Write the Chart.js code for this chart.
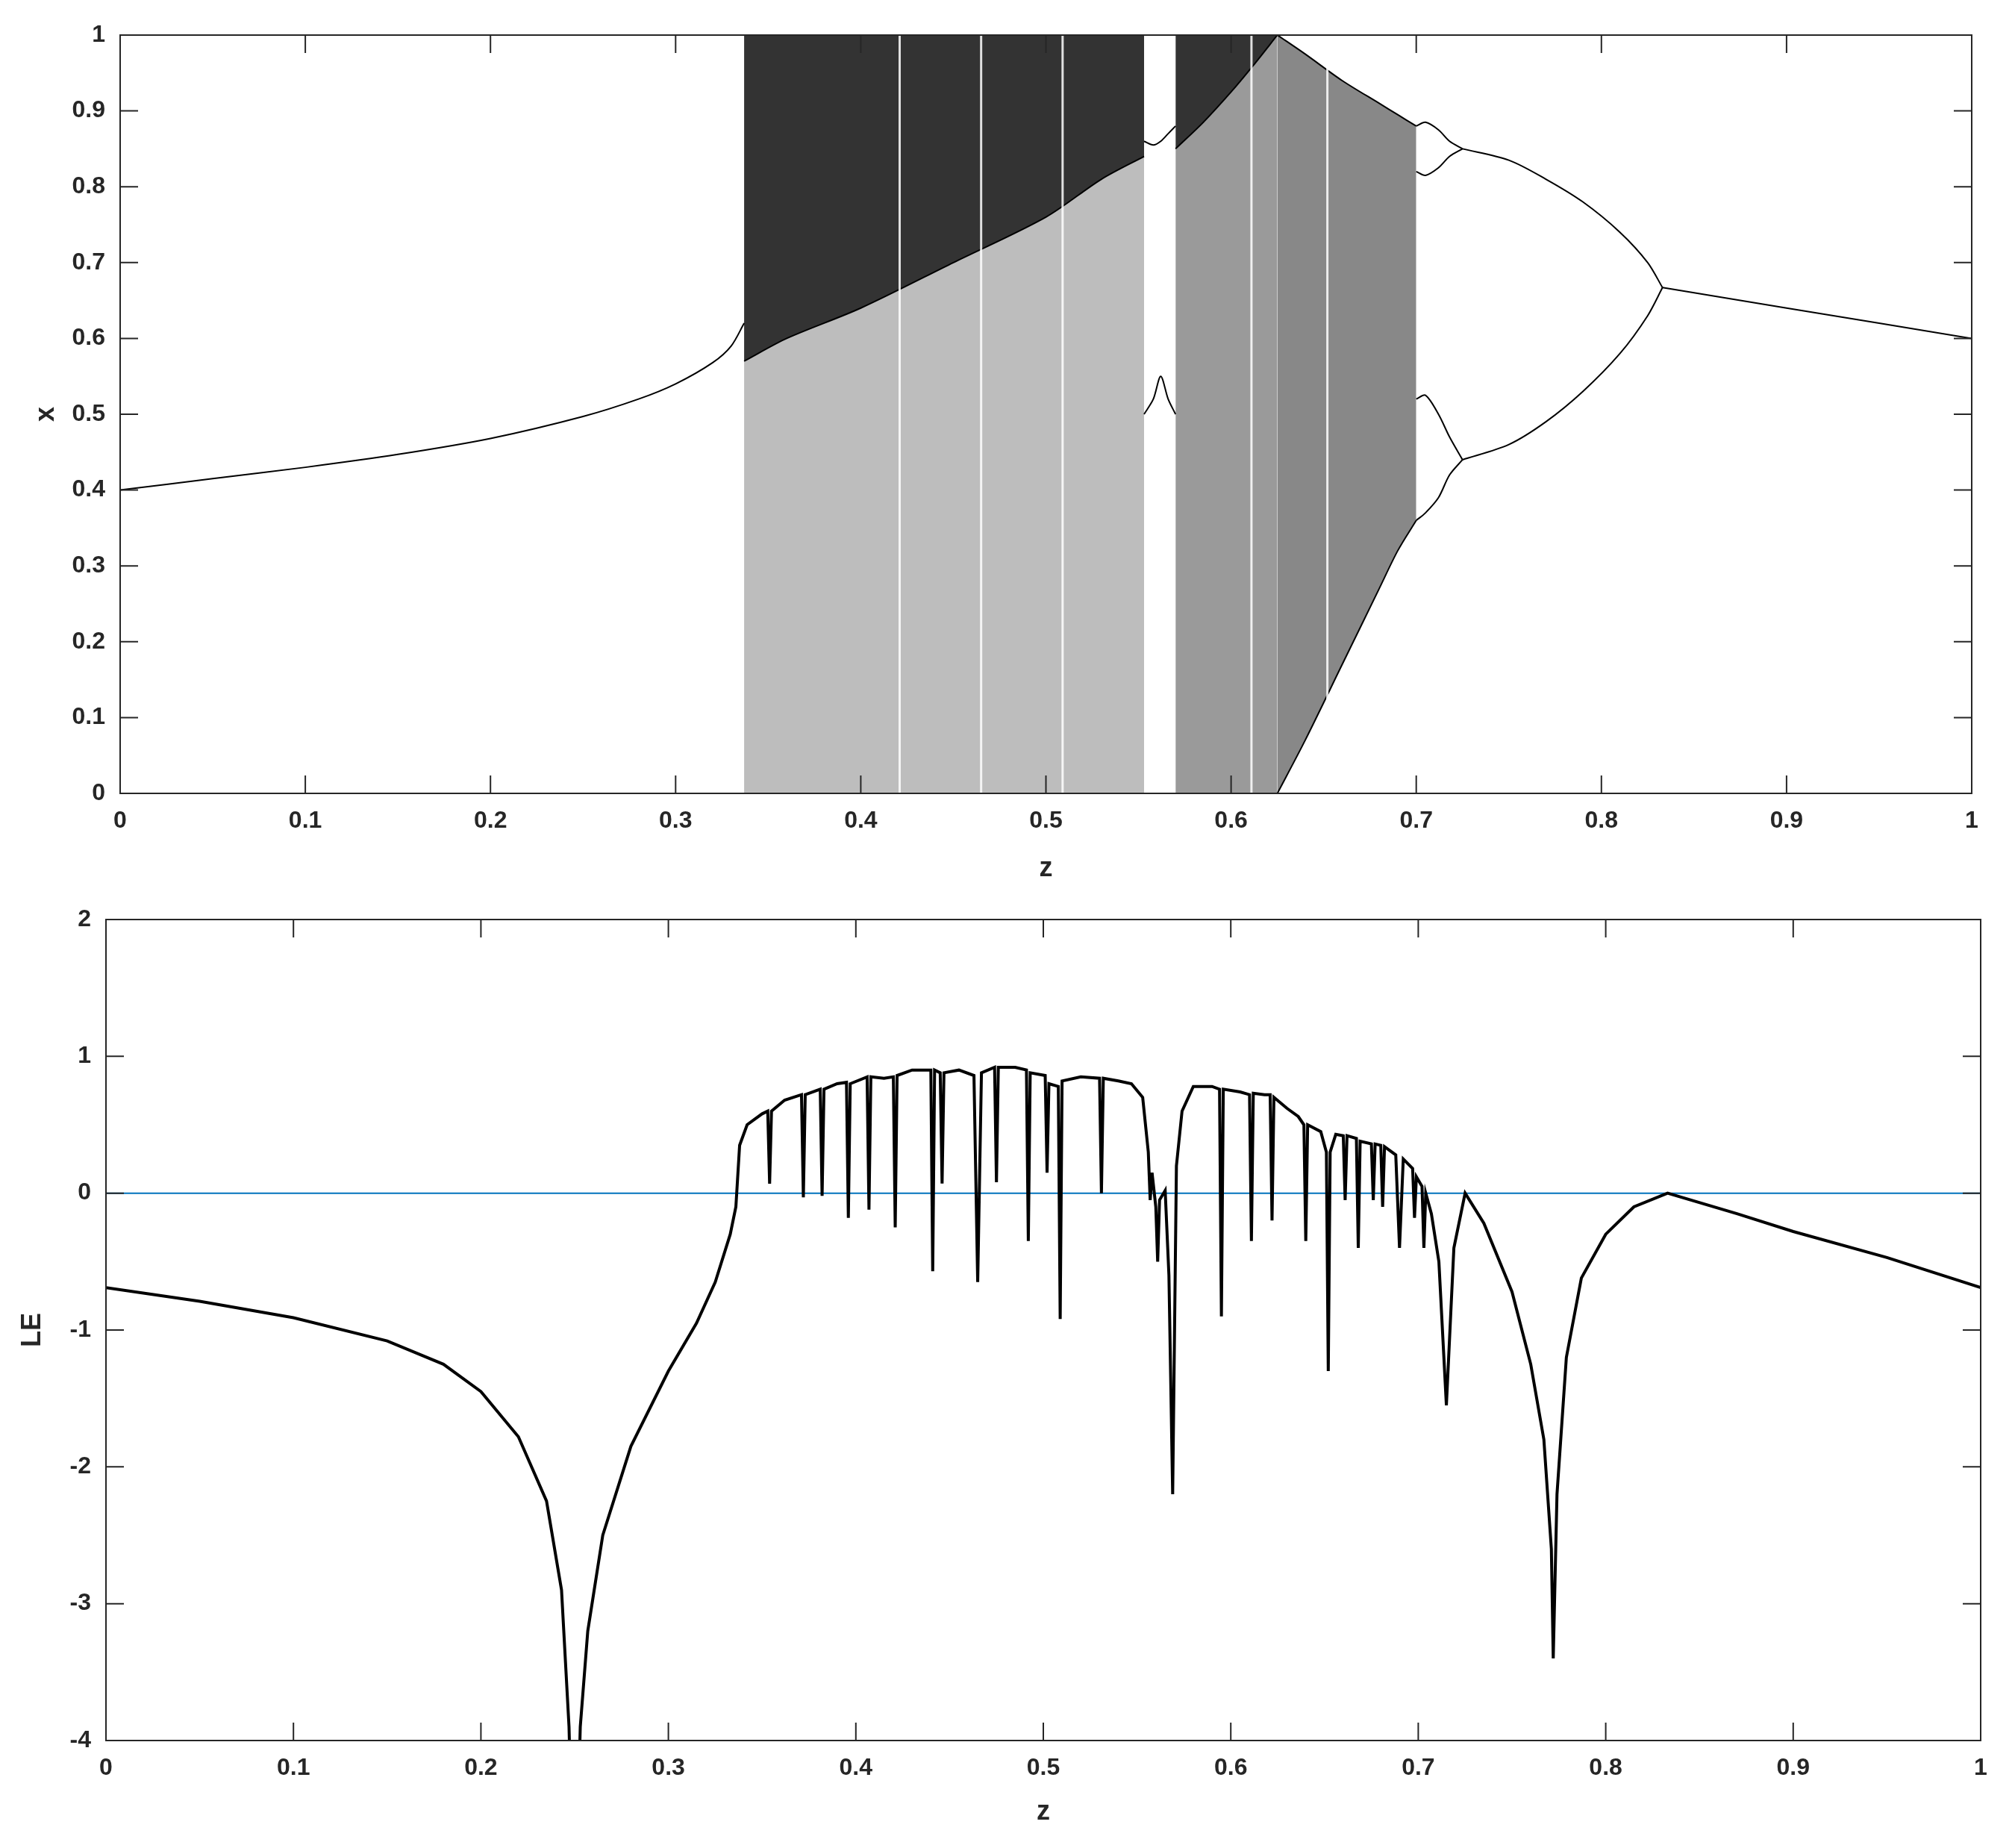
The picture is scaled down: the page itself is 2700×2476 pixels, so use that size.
<!DOCTYPE html>
<html><head><meta charset="utf-8">
<script src="https://cdn.jsdelivr.net/npm/chart.js@4.4.1/dist/chart.umd.min.js"></script>
<style>
  body { margin:0; background:#fff; width:2700px; height:2476px; position:relative; overflow:hidden; }
</style></head>
<body>
<div style="position:absolute;left:0;top:0;width:2700px;height:1186px"><canvas id="bif"></canvas></div>
<div style="position:absolute;left:0;top:1186px;width:2700px;height:1290px"><canvas id="le"></canvas></div>
<script>
// ── Bifurcation diagram ──
const fixedLeftZ  = [0, 0.05, 0.1, 0.15, 0.2, 0.25, 0.28, 0.3, 0.32, 0.33, 0.337];
const fixedLeftX  = [0.40, 0.415, 0.43, 0.447, 0.468, 0.497, 0.52, 0.54, 0.568, 0.59, 0.62];

const bandAZ      = [0.337, 0.36, 0.40, 0.45, 0.50, 0.53, 0.553];
const bandAEdge   = [0.57, 0.60, 0.64, 0.70, 0.76, 0.81, 0.84];

const gapUpZ      = [0.553, 0.558, 0.562, 0.566, 0.570];
const gapUpX      = [0.86, 0.855, 0.86, 0.87, 0.88];
const gapMidX     = [0.50, 0.52, 0.55, 0.52, 0.50];

const bandBZ      = [0.570, 0.585, 0.60, 0.612, 0.625];
const bandBEdge   = [0.85, 0.885, 0.925, 0.96, 1.0];

const bandCZ      = [0.625, 0.64, 0.66, 0.68, 0.69, 0.70];
const bandCUpper  = [1.0, 0.975, 0.94, 0.91, 0.895, 0.88];
const bandCLower  = [0.0, 0.07, 0.17, 0.27, 0.32, 0.36];

const p4Z         = [0.700, 0.705, 0.712, 0.718, 0.725];
const p4A         = [0.88, 0.885, 0.875, 0.86, 0.85];
const p4B         = [0.82, 0.815, 0.825, 0.84, 0.85];
const p4C         = [0.52, 0.525, 0.50, 0.47, 0.44];
const p4D         = [0.36, 0.37, 0.39, 0.42, 0.44];

const p2Z         = [0.725, 0.75, 0.77, 0.79, 0.81, 0.825, 0.833];
const p2Upper     = [0.85, 0.835, 0.81, 0.78, 0.74, 0.70, 0.667];
const p2Lower     = [0.44, 0.46, 0.49, 0.53, 0.58, 0.63, 0.667];

const fixedRightZ = [0.833, 0.9, 1.0];
const fixedRightX = [0.667, 0.64, 0.60];

const windowsZ    = [0.421, 0.465, 0.509, 0.611, 0.652];

// ── Lyapunov exponent ──
const leZ = [0, 0.05, 0.1, 0.15, 0.18, 0.2, 0.22, 0.235, 0.243, 0.247, 0.25, 0.253, 0.257, 0.265, 0.28, 0.3, 0.315, 0.325, 0.333, 0.336,
  0.338, 0.342, 0.35, 0.353, 0.354, 0.355, 0.362, 0.371, 0.372, 0.373, 0.381, 0.382, 0.383, 0.390, 0.395, 0.396, 0.397, 0.406, 0.407, 0.408,
  0.415, 0.420, 0.421, 0.422, 0.430, 0.440, 0.441, 0.442, 0.445, 0.446, 0.447, 0.455, 0.463, 0.465, 0.467, 0.474, 0.475, 0.476, 0.485,
  0.491, 0.492, 0.493, 0.501, 0.502, 0.503, 0.508, 0.509, 0.510, 0.520, 0.530, 0.531, 0.532, 0.540, 0.547, 0.553, 0.556, 0.557, 0.558,
  0.560, 0.561, 0.562, 0.565, 0.567, 0.569, 0.571, 0.574, 0.580, 0.590, 0.594, 0.595, 0.596, 0.605, 0.610, 0.611, 0.612, 0.618, 0.621,
  0.622, 0.623, 0.630, 0.636, 0.639, 0.640, 0.641, 0.648, 0.651, 0.652, 0.653, 0.656, 0.660, 0.661, 0.662, 0.667, 0.668, 0.669, 0.675,
  0.676, 0.677, 0.680, 0.681, 0.682, 0.688, 0.690, 0.692, 0.697, 0.698, 0.699, 0.702, 0.703, 0.704, 0.707, 0.711, 0.715, 0.719, 0.725,
  0.735, 0.75, 0.76, 0.767, 0.771, 0.772, 0.774, 0.779, 0.787, 0.8, 0.815, 0.833, 0.87, 0.9, 0.95, 1.0];
const leVal = [-0.69, -0.79, -0.91, -1.08, -1.25, -1.45, -1.78, -2.25, -2.9, -3.9, -5.5, -3.9, -3.2, -2.5, -1.85, -1.3, -0.95, -0.65, -0.3, -0.1,
  0.35, 0.5, 0.58, 0.6, 0.07, 0.6, 0.68, 0.72, -0.03, 0.72, 0.76, -0.02, 0.76, 0.8, 0.81, -0.18, 0.8, 0.85, -0.12, 0.85,
  0.84, 0.85, -0.25, 0.86, 0.9, 0.9, -0.57, 0.9, 0.88, 0.07, 0.88, 0.9, 0.86, -0.65, 0.88, 0.92, 0.08, 0.92, 0.92,
  0.9, -0.35, 0.88, 0.86, 0.15, 0.8, 0.78, -0.92, 0.82, 0.85, 0.84, 0.0, 0.84, 0.82, 0.8, 0.7, 0.3, -0.05, 0.15,
  -0.1, -0.5, -0.05, 0.02, -0.6, -2.2, 0.2, 0.6, 0.78, 0.78, 0.76, -0.9, 0.76, 0.74, 0.72, -0.35, 0.73, 0.72, 0.72,
  -0.2, 0.7, 0.62, 0.56, 0.5, -0.35, 0.5, 0.45, 0.3, -1.3, 0.3, 0.43, 0.42, -0.05, 0.42, 0.4, -0.4, 0.38, 0.36,
  -0.05, 0.36, 0.35, -0.1, 0.34, 0.28, -0.4, 0.25, 0.18, -0.18, 0.12, 0.05, -0.4, 0.0, -0.15, -0.5, -1.55, -0.4, 0.0,
  -0.22, -0.72, -1.25, -1.8, -2.6, -3.4, -2.2, -1.2, -0.62, -0.3, -0.1, 0.0, -0.15, -0.28, -0.47, -0.69];

const xs = (zs, ys) => zs.map((z, i) => ({ x: z, y: ys[i] }));
const tickFont = { family: "'Liberation Sans', Arial", size: 32, weight: "bold" };
const titleFont = { family: "'Liberation Sans', Arial", size: 36, weight: "bold" };
const fmt = v => String(Number(v.toFixed(1)));

// MATLAB-style box with inward ticks
const boxTicks = {
  id: "boxTicks",
  afterDraw(chart) {
    const { ctx, chartArea: a, scales } = chart;
    ctx.save();
    ctx.strokeStyle = "#262626"; ctx.lineWidth = 2;
    ctx.strokeRect(a.left, a.top, a.right - a.left, a.bottom - a.top);
    const L = 24;
    ctx.beginPath();
    scales.x.ticks.forEach(t => {
      const p = scales.x.getPixelForValue(t.value);
      ctx.moveTo(p, a.bottom); ctx.lineTo(p, a.bottom - L);
      ctx.moveTo(p, a.top); ctx.lineTo(p, a.top + L);
    });
    scales.y.ticks.forEach(t => {
      const p = scales.y.getPixelForValue(t.value);
      ctx.moveTo(a.left, p); ctx.lineTo(a.left + L, p);
      ctx.moveTo(a.right, p); ctx.lineTo(a.right - L, p);
    });
    ctx.stroke();
    ctx.restore();
  }
};

function axes(yMin, yMax, yStep, yTitle, yWidth, xHeight) {
  return {
    x: {
      type: "linear", min: 0, max: 1,
      ticks: { stepSize: 0.1, color: "#262626", font: tickFont, padding: 10, maxRotation: 0, callback: fmt },
      grid: { display: false }, border: { display: false },
      title: { display: true, text: "z", color: "#262626", font: titleFont, padding: 0 },
      afterFit: s => { s.height = xHeight; }
    },
    y: {
      type: "linear", min: yMin, max: yMax,
      ticks: { stepSize: yStep, color: "#262626", font: tickFont, padding: 12, callback: fmt },
      grid: { display: false }, border: { display: false },
      title: { display: true, text: yTitle, color: "#262626", font: titleFont, padding: 0 },
      afterFit: s => { s.width = yWidth; }
    }
  };
}

const line = (data, extra) => Object.assign({
  data, borderColor: "#000", borderWidth: 2, pointRadius: 0, fill: false, tension: 0.3, order: 1
}, extra);

const bifSets = [
  line(xs(bandAZ, bandAEdge), { borderWidth: 0, fill: "origin", backgroundColor: "#bdbdbd", order: 4 }),
  line(xs(bandAZ, bandAEdge), { borderWidth: 2, fill: "end", backgroundColor: "#333333", order: 3 }),
  line(xs(bandBZ, bandBEdge), { borderWidth: 0, fill: "origin", backgroundColor: "#9a9a9a", order: 4 }),
  line(xs(bandBZ, bandBEdge), { borderWidth: 2, fill: "end", backgroundColor: "#333333", order: 3 }),
  line(xs(bandCZ, bandCLower), { borderWidth: 2, order: 3 }),
  line(xs(bandCZ, bandCUpper), { borderWidth: 2, fill: "-1", backgroundColor: "#888888", order: 3 }),
];
windowsZ.forEach(z => bifSets.push(line([{ x: z, y: 0 }, { x: z, y: 1 }], { borderColor: "rgba(255,255,255,0.85)", borderWidth: 3, tension: 0, order: 2 })));
[
  xs(fixedLeftZ, fixedLeftX), xs(gapUpZ, gapUpX), xs(gapUpZ, gapMidX),
  xs(p4Z, p4A), xs(p4Z, p4B), xs(p4Z, p4C), xs(p4Z, p4D),
  xs(p2Z, p2Upper), xs(p2Z, p2Lower), xs(fixedRightZ, fixedRightX)
].forEach(d => bifSets.push(line(d)));

new Chart(document.getElementById("bif"), {
  type: "line",
  data: { datasets: bifSets },
  options: {
    responsive: true, maintainAspectRatio: false, animation: false,
    layout: { padding: { top: 47, right: 58, left: 40, bottom: 0 } },
    plugins: { legend: { display: false }, tooltip: { enabled: false } },
    scales: axes(0, 1, 0.1, "x", 121, 123)
  },
  plugins: [boxTicks]
});

new Chart(document.getElementById("le"), {
  type: "line",
  data: { datasets: [
    line(xs(leZ, leVal), { borderWidth: 4, tension: 0 }),
    line([{ x: 0, y: 0 }, { x: 1, y: 0 }], { borderColor: "#0072bd", borderWidth: 2, tension: 0, order: 2 })
  ] },
  options: {
    responsive: true, maintainAspectRatio: false, animation: false,
    layout: { padding: { top: 46, right: 46, left: 22, bottom: 26 } },
    plugins: { legend: { display: false }, tooltip: { enabled: false } },
    scales: axes(-4, 2, 1, "LE", 120, 118)
  },
  plugins: [boxTicks]
});
</script>
</body></html>
